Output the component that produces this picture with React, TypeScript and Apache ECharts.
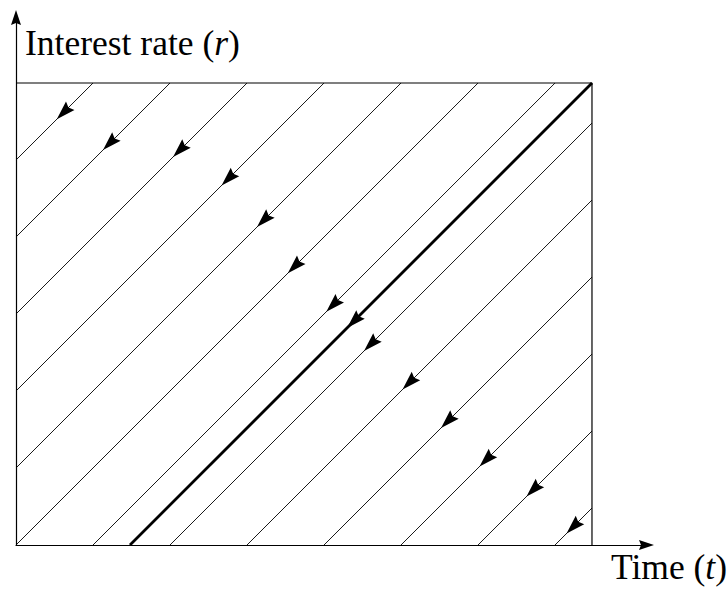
import React, { useEffect, useRef } from "react";
import * as echarts from "echarts";

// Box (data region) extents
const T_MAX = 7.48;
const R_MAX = 6;
// Axis extents (arrow ends)
const AXIS_MAX_T = 8.188;
const AXIS_MAX_R = 6.851;

// Characteristic lines r = t + k
const lineOffsets = [5, 4, 3, 2, 1, 0, -1, -2, -3, -4, -5, -6, -7];
// t-coordinate of each arrow tip on those lines
const arrowTipT = [0.53, 1.13, 2.04, 2.67, 3.13, 3.53, 4.03, 4.52, 5.02, 5.52, 6.02, 6.63, 7.15];
// Thick line (through the top-right corner)
const thickOffset = -1.48;
const thickArrowT = 4.3;

const yAxisTitle = "Interest rate (";
const yAxisVar = "r";
const xAxisTitle = "Time (";
const xAxisVar = "t";

const ARROW_PATH = "path://M5,0L10,15L5,13L0,15Z";

function clipLine(k: number): number[][] {
  const start = k >= 0 ? [0, k] : [-k, 0];
  const tTop = R_MAX - k;
  const end = tTop <= T_MAX ? [tTop, R_MAX] : [T_MAX, T_MAX + k];
  return [start, end];
}

export default function App() {
  const ref = useRef<HTMLDivElement>(null);
  useEffect(() => {
    if (!ref.current) return;
    const chart = echarts.init(ref.current, null, { renderer: "svg" });
    const thinSeries = lineOffsets.map((k) => ({
      type: "line",
      data: clipLine(k),
      symbol: "none",
      silent: true,
      lineStyle: { color: "#000", width: 0.9 },
      z: 2,
    }));
    const arrowData = lineOffsets.map((k, i) => [arrowTipT[i], arrowTipT[i] + k]);
    arrowData.push([thickArrowT, thickArrowT + thickOffset]);
    const fontFamily = "'Liberation Serif', 'Times New Roman', serif";
    const rich = {
      a: { fontFamily, fontSize: 35.5, color: "#000" },
      b: { fontFamily, fontSize: 35.5, fontStyle: "italic", color: "#000" },
    };
    const axisCommon = {
      type: "value",
      min: 0,
      axisLine: {
        show: true,
        onZero: false,
        symbol: ["none", ARROW_PATH],
        symbolSize: [10, 19],
        lineStyle: { color: "#000", width: 1.2 },
      },
      axisTick: { show: false },
      axisLabel: { show: false },
      splitLine: { show: false },
    };
    chart.setOption({
      animation: false,
      grid: {
        left: 16,
        top: 17.5,
        right: 80.5,
        bottom: 47,
        containLabel: false,
        outerBoundsMode: "none",
      },
      xAxis: { ...axisCommon, max: AXIS_MAX_T },
      yAxis: { ...axisCommon, max: AXIS_MAX_R },
      graphic: [
        {
          type: "text",
          x: 25,
          y: 61,
          style: {
            text: `{a|${yAxisTitle}}{b|${yAxisVar}}{a|)}`,
            rich,
            verticalAlign: "bottom",
          },
        },
        {
          type: "text",
          x: 611,
          y: 585,
          style: {
            text: `{a|${xAxisTitle}}{b|${xAxisVar}}{a|)}`,
            rich,
            verticalAlign: "bottom",
          },
        },
      ],
      series: [
        {
          type: "line",
          data: [
            [0, R_MAX],
            [T_MAX, R_MAX],
            [T_MAX, 0],
          ],
          symbol: "none",
          silent: true,
          lineStyle: { color: "#000", width: 1.2 },
          z: 3,
        },
        ...thinSeries,
        {
          type: "line",
          data: clipLine(thickOffset),
          symbol: "none",
          silent: true,
          lineStyle: { color: "#000", width: 2.8 },
          z: 3,
        },
        {
          type: "scatter",
          data: arrowData,
          symbol: ARROW_PATH,
          symbolSize: [12, 19],
          symbolRotate: 135,
          symbolOffset: [6.7, -6.7],
          itemStyle: { color: "#000", opacity: 1 },
          silent: true,
          z: 5,
        },
      ],
    });
    return () => chart.dispose();
  }, []);
  return <div ref={ref} style={{ width: 727, height: 592, position: "absolute", left: 0, top: 0 }} />;
}
